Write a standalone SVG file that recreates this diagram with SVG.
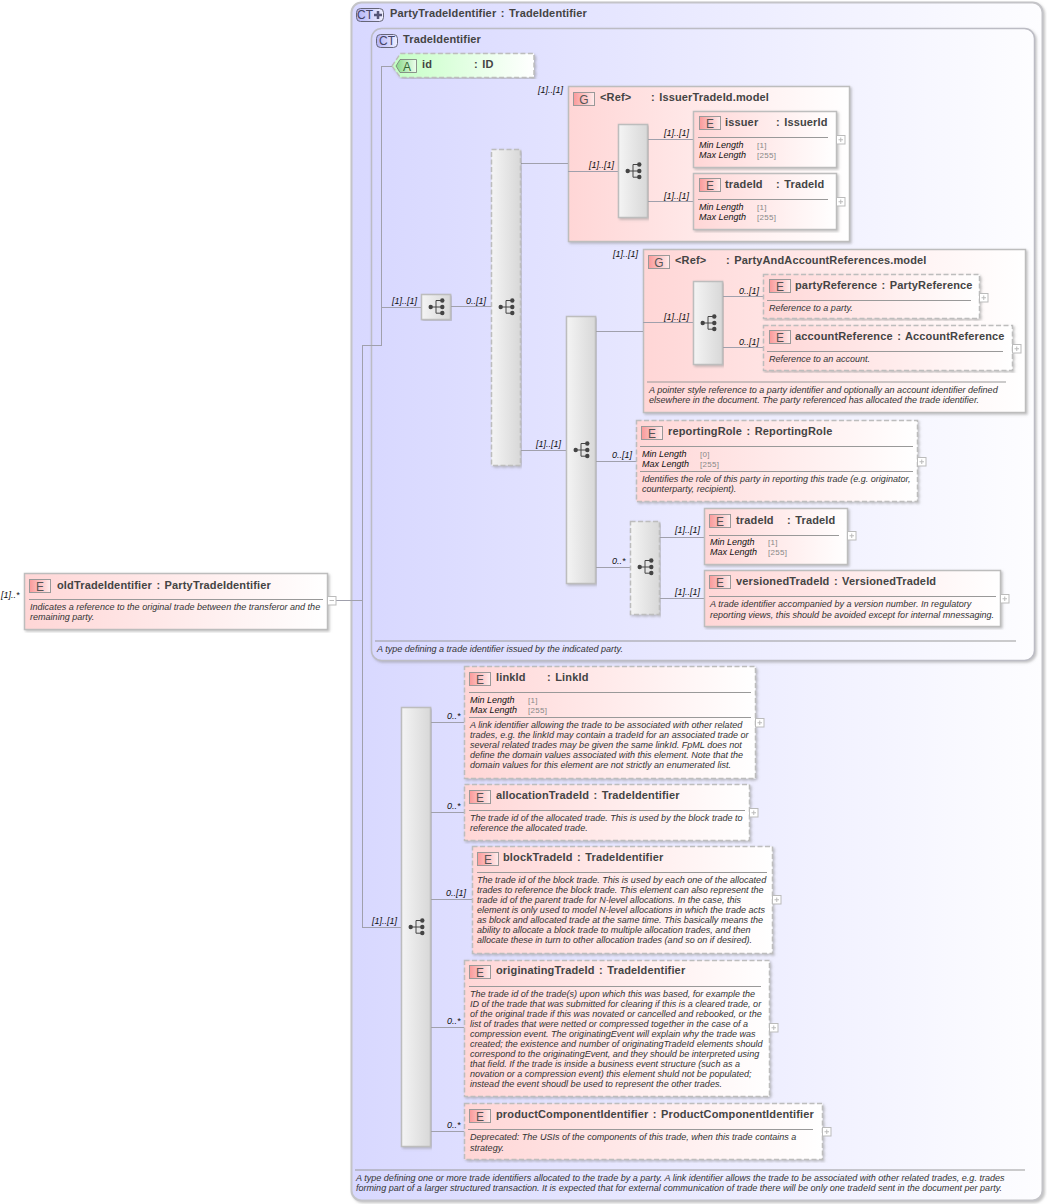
<svg xmlns="http://www.w3.org/2000/svg" width="1047" height="1204" viewBox="0 0 1047 1204">
<style>
text{font-family:"Liberation Sans",Arial,sans-serif}
.t{font-size:11px;font-weight:bold;fill:#444;letter-spacing:.15px;word-spacing:1.2px}
.d{font-size:9.05px;font-style:italic;fill:#333}
.m{font-size:9px;font-style:italic;fill:#111}
.f{font-size:9px;font-style:italic;fill:#111}
.v{font-size:8px;fill:#888;letter-spacing:.3px}
.ic{font-size:12px;fill:#555;text-anchor:middle}
.el{fill:url(#red);stroke:#bdbdbd;stroke-width:1.5;filter:url(#sh)}
.dash{stroke-dasharray:5 2.5}
.sep{stroke:#999;stroke-width:1;fill:none}
.con{stroke:#a0a0ac;stroke-width:1;fill:none}
.seq{fill:url(#grey);stroke:#bdbdbd;stroke-width:1.5;filter:url(#sh)}
.eic{fill:url(#redic);stroke:#999;stroke-width:1}
.exp{fill:#fff;stroke:#bbb;stroke-width:1}
</style>
<defs>
<linearGradient id="red"><stop offset="0" stop-color="#ffd6d6"/><stop offset="1" stop-color="#fff"/></linearGradient>
<linearGradient id="redic"><stop offset="0" stop-color="#fa9a9a"/><stop offset="1" stop-color="#ffecec"/></linearGradient>
<linearGradient id="grey" x1="0" y1="0" x2="1" y2="0"><stop offset="0" stop-color="#f4f4f4"/><stop offset="1" stop-color="#d8d8d8"/></linearGradient>
<linearGradient id="blue"><stop offset="0" stop-color="#d8d8ff"/><stop offset="1" stop-color="#fdfdff"/></linearGradient>
<linearGradient id="blueic"><stop offset="0" stop-color="#b4b4f8"/><stop offset="1" stop-color="#eeeeff"/></linearGradient>
<linearGradient id="green"><stop offset="0" stop-color="#c4ffc4"/><stop offset="1" stop-color="#fff"/></linearGradient>
<linearGradient id="greenic"><stop offset="0" stop-color="#88d888"/><stop offset="1" stop-color="#efe"/></linearGradient>
<filter id="sh" x="-5%" y="-5%" width="110%" height="110%"><feDropShadow dx="1.5" dy="1.5" stdDeviation="1" flood-color="#888" flood-opacity=".5"/></filter>
<g id="seqi" fill="#444" stroke="none">
<circle cx="-6.3" cy="0" r="2.2"/><circle cx="5.3" cy="-6.5" r="2.2"/><circle cx="5.3" cy="0" r="2.2"/><circle cx="5.3" cy="6" r="2.2"/>
<path d="M-6 0H5M-1 6.2V-6.5H5M-1 6.2H5" fill="none" stroke="#444" stroke-width="1"/>
</g>
<g id="plus"><rect class="exp" x="0" y="0" width="8.5" height="8.5"/><path d="M2 4.25H6.5M4.25 2V6.5" stroke="#bbb" stroke-width="1"/></g>
</defs>
<rect width="1047" height="1204" fill="#fff"/>

<g id="PartyTradeIdentifier">
<rect x="351.5" y="2.5" width="691" height="1198" rx="10" fill="url(#blue)" stroke="#c4c4c8" stroke-width="2" filter="url(#sh)"/>
<rect x="356.5" y="8.5" width="27" height="13" rx="4" fill="url(#blueic)" stroke="#667"/>
<text x="365" y="19" class="ic" style="fill:#446">CT</text>
<path d="M378 11v8M374 15h8" stroke="#557" stroke-width="2.5"/>
<text x="390" y="17" class="t">PartyTradeIdentifier : TradeIdentifier</text>
<path class="sep" d="M355 1170H1025"/>
<text x="356" y="1181" class="d">A type defining one or more trade identifiers allocated to the trade by a party. A link identifier allows the trade to be associated with other related trades, e.g. trades</text>
<text x="356" y="1191" class="d">forming part of a larger structured transaction. It is expected that for external communication of trade there will be only one tradeId sent in the document per party.</text>
</g>
<g id="TradeIdentifier">
<rect x="371.5" y="28.5" width="663" height="632" rx="10" fill="url(#blue)" stroke="#bcbcc4" stroke-width="1.5" filter="url(#sh)"/>
<rect x="376.5" y="34.5" width="21" height="13" rx="4" fill="url(#blueic)" stroke="#667"/>
<text x="387" y="45" class="ic" style="fill:#446">CT</text>
<text x="403" y="43" class="t">TradeIdentifier</text>
<path class="sep" d="M375 641H1016"/>
<text x="377" y="652" class="d">A type defining a trade identifier issued by the indicated party.</text>
</g>
<g id="IssuerTradeId.model">
<rect class="el" x="568.5" y="86.5" width="281" height="155"/>
<rect class="eic" x="573.5" y="92.5" width="21" height="13"/><text x="584" y="104" class="ic">G</text>
<text x="600" y="101" class="t">&lt;Ref&gt;</text><text x="651" y="101" class="t">: IssuerTradeId.model</text>
<text x="538" y="93" class="m">[1]..[1]</text>
</g>
<g id="PartyAndAccountReferences.model">
<rect class="el" x="643.5" y="249.5" width="382" height="163"/>
<rect class="eic" x="648.5" y="255.5" width="21" height="13"/><text x="659" y="267" class="ic">G</text>
<text x="675" y="264" class="t">&lt;Ref&gt;</text><text x="726" y="264" class="t">: PartyAndAccountReferences.model</text>
<path class="sep" d="M647 382H1006"/>
<text x="649" y="393" class="d">A pointer style reference to a party identifier and optionally an account identifier defined</text>
<text x="649" y="403" class="d">elsewhere in the document. The party referenced has allocated the trade identifier.</text>
<text x="613" y="257" class="m">[1]..[1]</text>
</g>

<g id="connectors">
<path class="con" d="M336 600.500H362M362.500 345V927M362 345.500H382M381.500 66V345M381 66.500H392M382 307.500H421M451 306.500H491M521 163.500H568M521 450.500H566"/>
<path class="con" d="M568 171.500H618M647 139.500H693M647 201.500H693"/>
<path class="con" d="M596 331.500H643M643 322.500H693M722 296.500H763M722 347.500H763M596 461.500H636M596 567.500H630M659 537.500H704M659 598.500H704"/>
<path class="con" d="M362 927.500H401M431 722.500H464M431 812.500H464M431 899.500H472M431 1027.500H464M431 1131.500H464"/>
<g class="labels">
<text x="392" y="304" class="m">[1]..[1]</text><text x="466" y="304" class="m">0..[1]</text>
<text x="536" y="447" class="m">[1]..[1]</text><text x="589" y="168" class="m">[1]..[1]</text>
<text x="664" y="136" class="m">[1]..[1]</text><text x="664" y="199" class="m">[1]..[1]</text>
<text x="664" y="320" class="m">[1]..[1]</text><text x="739" y="294" class="m">0..[1]</text><text x="739" y="345" class="m">0..[1]</text>
<text x="612" y="458" class="m">0..[1]</text><text x="612" y="564" class="m">0..*</text>
<text x="675" y="533" class="m">[1]..[1]</text><text x="675" y="595" class="m">[1]..[1]</text>
<text x="372" y="924" class="m">[1]..[1]</text><text x="447" y="719" class="m">0..*</text><text x="447" y="809" class="m">0..*</text>
<text x="446" y="896" class="m">0..[1]</text><text x="447" y="1024" class="m">0..*</text><text x="447" y="1128" class="m">0..*</text>
<text x="1" y="598" class="m">[1]..*</text>
</g>
</g>

<g id="seq1"><rect class="seq" x="421.5" y="294.5" width="29" height="25"/><use href="#seqi" x="437" y="307"/></g>
<g id="seq2"><rect class="seq dash" x="491.5" y="149.5" width="29" height="316"/><use href="#seqi" x="507" y="307"/></g>
<g id="seq3"><rect class="seq" x="618.5" y="124.5" width="29" height="93"/><use href="#seqi" x="634" y="171"/></g>
<g id="seq4"><rect class="seq" x="566.5" y="316.5" width="29" height="267"/><use href="#seqi" x="582" y="450"/></g>
<g id="seq5"><rect class="seq" x="693.5" y="281.5" width="29" height="83"/><use href="#seqi" x="709" y="323"/></g>
<g id="seq6"><rect class="seq dash" x="630.5" y="521.5" width="29" height="93"/><use href="#seqi" x="646" y="567"/></g>
<g id="seq7"><rect class="seq" x="401.5" y="707.5" width="29" height="439"/><use href="#seqi" x="417" y="927"/></g>

<g id="oldTradeIdentifier">
<rect class="el" x="24.5" y="573.5" width="303" height="56"/>
<rect class="eic" x="29.5" y="579.5" width="21" height="13"/><text x="40" y="591" class="ic">E</text>
<text x="57" y="589" class="t">oldTradeIdentifier : PartyTradeIdentifier</text>
<path class="sep" d="M29 599.500H323"/>
<text x="30" y="610" class="d">Indicates a reference to the original trade between the transferor and the</text>
<text x="30" y="620" class="d">remaining party.</text>
<rect class="exp" x="327.5" y="596.5" width="8.5" height="8.5"/><path d="M329.500 600.500H334" stroke="#bbb"/>
</g>
<g id="id">
<path d="M392 66L400.500 53.500H534V77.500H400.500Z" fill="url(#green)" stroke="#bdbdbd" stroke-width="1.5" stroke-dasharray="5 2.5" filter="url(#sh)"/>
<path d="M396 66L400 59.500H416.500V72.500H400Z" fill="url(#greenic)" stroke="#777" stroke-width=".8"/><text x="407" y="71" class="ic" style="fill:#363">A</text>
<text x="422" y="68" class="t">id</text><text x="474" y="68" class="t">: ID</text>
</g>
<g id="issuer">
<rect class="el" x="693.5" y="111.5" width="143" height="56"/>
<rect class="eic" x="699.5" y="116.5" width="21" height="13"/><text x="710" y="128" class="ic">E</text>
<text x="725" y="126" class="t">issuer</text><text x="776" y="126" class="t">: IssuerId</text>
<path class="sep" d="M698 137.500H828"/>
<text x="699" y="148" class="f">Min Length</text><text x="757" y="148" class="v">[1]</text>
<text x="699" y="158" class="f">Max Length</text><text x="757" y="158" class="v">[255]</text>
<use href="#plus" x="836.500" y="135.500"/>
</g>
<g id="tradeId">
<rect class="el" x="693.5" y="173.5" width="143" height="56"/>
<rect class="eic" x="699.5" y="178.5" width="21" height="13"/><text x="710" y="190" class="ic">E</text>
<text x="725" y="188" class="t">tradeId</text><text x="776" y="188" class="t">: TradeId</text>
<path class="sep" d="M698 199.500H828"/>
<text x="699" y="210" class="f">Min Length</text><text x="757" y="210" class="v">[1]</text>
<text x="699" y="220" class="f">Max Length</text><text x="757" y="220" class="v">[255]</text>
<use href="#plus" x="836.500" y="197.500"/>
</g>
<g id="partyReference">
<rect class="el dash" x="763.5" y="274.5" width="216" height="44"/>
<rect class="eic" x="769.5" y="279.5" width="21" height="13"/><text x="780" y="291" class="ic">E</text>
<text x="795" y="289" class="t">partyReference : PartyReference</text>
<path class="sep" d="M767 300.500H971"/>
<text x="769" y="311" class="d">Reference to a party.</text>
<use href="#plus" x="979.500" y="293.500"/>
</g>
<g id="accountReference">
<rect class="el dash" x="763.5" y="325.5" width="249" height="45"/>
<rect class="eic" x="769.5" y="330.5" width="21" height="13"/><text x="780" y="342" class="ic">E</text>
<text x="795" y="340" class="t">accountReference : AccountReference</text>
<path class="sep" d="M767 351.500H1003"/>
<text x="769" y="362" class="d">Reference to an account.</text>
<use href="#plus" x="1012.500" y="344.500"/>
</g>
<g id="reportingRole">
<rect class="el dash" x="636.5" y="420.5" width="281" height="81"/>
<rect class="eic" x="641.5" y="426.5" width="21" height="13"/><text x="652" y="438" class="ic">E</text>
<text x="668" y="435" class="t">reportingRole : ReportingRole</text>
<path class="sep" d="M640 446.500H913M640 471.500H913"/>
<text x="642" y="457" class="f">Min Length</text><text x="700" y="457" class="v">[0]</text>
<text x="642" y="467" class="f">Max Length</text><text x="700" y="467" class="v">[255]</text>
<text x="642" y="482" class="d">Identifies the role of this party in reporting this trade (e.g. originator,</text>
<text x="642" y="492" class="d">counterparty, recipient).</text>
<use href="#plus" x="917.500" y="457.500"/>
</g>
<g id="tradeId2">
<rect class="el" x="704.5" y="508.5" width="143" height="56"/>
<rect class="eic" x="709.5" y="514.5" width="21" height="13"/><text x="720" y="526" class="ic">E</text>
<text x="736" y="524" class="t">tradeId</text><text x="787" y="524" class="t">: TradeId</text>
<path class="sep" d="M709 535.500H839"/>
<text x="710" y="545" class="f">Min Length</text><text x="768" y="545" class="v">[1]</text>
<text x="710" y="555" class="f">Max Length</text><text x="768" y="555" class="v">[255]</text>
<use href="#plus" x="847.500" y="531.500"/>
</g>
<g id="versionedTradeId">
<rect class="el" x="704.5" y="570.5" width="296" height="56"/>
<rect class="eic" x="709.5" y="575.5" width="21" height="13"/><text x="720" y="587" class="ic">E</text>
<text x="736" y="585" class="t">versionedTradeId : VersionedTradeId</text>
<path class="sep" d="M709 596.500H996"/>
<text x="710" y="607" class="d">A trade identifier accompanied by a version number. In regulatory</text>
<text x="710" y="618" class="d">reporting views, this should be avoided except for internal mnessaging.</text>
<use href="#plus" x="1000.500" y="594.500"/>
</g>
<g id="linkId">
<rect class="el dash" x="464.5" y="666.5" width="291" height="112"/>
<rect class="eic" x="469.5" y="672.500" width="21" height="13"/><text x="480" y="684" class="ic">E</text>
<text x="496" y="681" class="t">linkId</text><text x="547" y="681" class="t">: LinkId</text>
<path class="sep" d="M469 692.500H751M469 717.500H751"/>
<text x="470" y="703" class="f">Min Length</text><text x="528" y="703" class="v">[1]</text>
<text x="470" y="713" class="f">Max Length</text><text x="528" y="713" class="v">[255]</text>
<text x="470" y="728" class="d">A link identifier allowing the trade to be associated with other related</text>
<text x="470" y="738" class="d">trades, e.g. the linkId may contain a tradeId for an associated trade or</text>
<text x="470" y="748" class="d">several related trades may be given the same linkId. FpML does not</text>
<text x="470" y="758" class="d">define the domain values associated with this element. Note that the</text>
<text x="470" y="768" class="d">domain values for this element are not strictly an enumerated list.</text>
<use href="#plus" x="755.500" y="718.500"/>
</g>
<g id="allocationTradeId">
<rect class="el dash" x="464.5" y="784.5" width="285" height="56"/>
<rect class="eic" x="469.5" y="790.5" width="21" height="13"/><text x="480" y="802" class="ic">E</text>
<text x="496" y="799" class="t">allocationTradeId : TradeIdentifier</text>
<path class="sep" d="M469 810.500H745"/>
<text x="470" y="821" class="d">The trade id of the allocated trade. This is used by the block trade to</text>
<text x="470" y="831" class="d">reference the allocated trade.</text>
<use href="#plus" x="749.500" y="808.500"/>
</g>
<g id="blockTradeId">
<rect class="el dash" x="472.5" y="846.5" width="300" height="107"/>
<rect class="eic" x="477.5" y="852.5" width="21" height="13"/><text x="488" y="864" class="ic">E</text>
<text x="503" y="861" class="t">blockTradeId : TradeIdentifier</text>
<path class="sep" d="M477 872.500H767"/>
<text x="477" y="883" class="d">The trade id of the block trade. This is used by each one of the allocated</text>
<text x="477" y="893" class="d">trades to reference the block trade. This element can also represent the</text>
<text x="477" y="903" class="d">trade id of the parent trade for N-level allocations. In the case, this</text>
<text x="477" y="913" class="d">element is only used to model N-level allocations in which the trade acts</text>
<text x="477" y="923" class="d">as block and allocated trade at the same time. This basically means the</text>
<text x="477" y="933" class="d">ability to allocate a block trade to multiple allocation trades, and then</text>
<text x="477" y="943" class="d">allocate these in turn to other allocation trades (and so on if desired).</text>
<use href="#plus" x="772.500" y="895.500"/>
</g>
<g id="originatingTradeId">
<rect class="el dash" x="464.5" y="960.5" width="305" height="136"/>
<rect class="eic" x="469.5" y="965.500" width="21" height="13"/><text x="480" y="977" class="ic">E</text>
<text x="496" y="974" class="t">originatingTradeId : TradeIdentifier</text>
<path class="sep" d="M469 986.500H761"/>
<text x="470" y="997" class="d">The trade id of the trade(s) upon which this was based, for example the</text>
<text x="470" y="1007" class="d">ID of the trade that was submitted for clearing if this is a cleared trade, or</text>
<text x="470" y="1017" class="d">of the original trade if this was novated or cancelled and rebooked, or the</text>
<text x="470" y="1027" class="d">list of trades that were netted or compressed together in the case of a</text>
<text x="470" y="1037" class="d">compression event. The originatingEvent will explain why the trade was</text>
<text x="470" y="1047" class="d">created; the existence and number of originatingTradeId elements should</text>
<text x="470" y="1057" class="d">correspond to the originatingEvent, and they should be interpreted using</text>
<text x="470" y="1067" class="d">that field. If the trade is inside a business event structure (such as a</text>
<text x="470" y="1077" class="d">novation or a compression event) this element shuld not be populated;</text>
<text x="470" y="1087" class="d">instead the event shoudl be used to represent the other trades.</text>
<use href="#plus" x="769.500" y="1023.500"/>
</g>
<g id="productComponentIdentifier">
<rect class="el dash" x="464.5" y="1103.5" width="358" height="56"/>
<rect class="eic" x="469.5" y="1109.5" width="21" height="13"/><text x="480" y="1121" class="ic">E</text>
<text x="496" y="1118" class="t">productComponentIdentifier : ProductComponentIdentifier</text>
<path class="sep" d="M468 1129.500H813"/>
<text x="470" y="1140" class="d">Deprecated: The USIs of the components of this trade, when this trade contains a</text>
<text x="470" y="1151" class="d">strategy.</text>
<use href="#plus" x="822.500" y="1127.500"/>
</g>
</svg>
